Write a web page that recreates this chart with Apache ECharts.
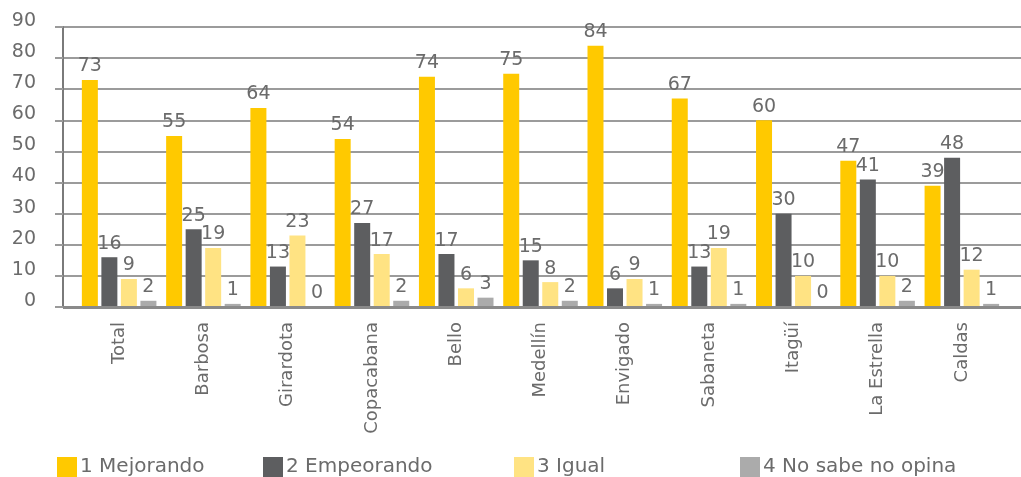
<!DOCTYPE html>
<html>
<head>
<meta charset="utf-8">
<script src="https://cdn.jsdelivr.net/npm/echarts@6/dist/echarts.min.js"></script>
<style>
  html, body { margin: 0; padding: 0; background: #fff; }
  #chart { width: 1021px; height: 477px; }
</style>
</head>
<body>
<div id="chart"></div>
<script>
// Datos de la gráfica
const categorias = ['Total', 'Barbosa', 'Girardota', 'Copacabana', 'Bello', 'Medellín',
  'Envigado', 'Sabaneta', 'Itagüí', 'La Estrella', 'Caldas'];
const mejorando = [73, 55, 64, 54, 74, 75, 84, 67, 60, 47, 39];
const empeorando = [16, 25, 13, 27, 17, 15, 6, 13, 30, 41, 48];
const igual = [9, 19, 23, 17, 6, 8, 9, 19, 10, 10, 12];
const noSabe = [2, 1, 0, 2, 3, 2, 1, 1, 0, 2, 1];
const nombres = ['1 Mejorando', '2 Empeorando', '3 Igual', '4 No sabe no opina'];
const colores = ['#FFC900', '#5D5E60', '#FFE383', '#ABABAB'];

const fuente = '"DejaVu Sans", sans-serif';
const gris = '#6B6B6B';

const chart = echarts.init(document.getElementById('chart'));

const series = [mejorando, empeorando, igual, noSabe].map((vals, i) => ({
  name: nombres[i],
  type: 'bar',
  xAxisIndex: 1,
  yAxisIndex: 1,
  data: vals,
  barWidth: 16,
  barGap: '22%',
  itemStyle: { color: colores[i] },
  label: {
    show: true,
    position: 'top',
    distance: 4,
    color: gris,
    fontSize: 19,
    fontFamily: fuente
  }
}));

// Leyendas separadas para respetar la posición de cada elemento
const legendLeft = [52, 258, 509, 735];
const legends = nombres.map((n, i) => ({
  data: [n],
  left: legendLeft[i],
  top: 452,
  itemWidth: 20,
  itemHeight: 20,
  itemGap: 0,
  icon: 'rect',
  textStyle: { color: gris, fontSize: 20, fontFamily: fuente, padding: [0, 0, 0, -2] },
  selectedMode: false
}));

chart.setOption({
  animation: false,
  legend: legends,
  grid: [
    { left: 63, right: 0, top: 27, height: 280 },
    { left: 77, right: 17, top: 27, height: 280 }
  ],
  xAxis: [
    { type: 'category', gridIndex: 0, data: categorias, show: false },
    {
      type: 'category',
      gridIndex: 1,
      data: categorias,
      axisLine: { show: false },
      axisTick: { show: false },
      axisLabel: {
        rotate: 90,
        margin: 15,
        color: gris,
        fontSize: 18,
        fontFamily: fuente
      }
    }
  ],
  yAxis: [
    {
      type: 'value',
      gridIndex: 0,
      min: 0,
      max: 90,
      interval: 10,
      axisLine: { show: true, lineStyle: { color: '#7A7A7A', width: 2 } },
      axisTick: { show: true, length: 8, lineStyle: { color: '#9A9A9A', width: 2 } },
      axisLabel: {
        color: gris,
        fontSize: 19,
        fontFamily: fuente,
        margin: 27,
        verticalAlign: 'bottom',
        lineHeight: 12
      },
      splitLine: { show: true, lineStyle: { color: '#7A7A7A', width: 1.5 } }
    },
    {
      type: 'value',
      gridIndex: 1,
      min: 0,
      max: 90,
      interval: 10,
      show: false,
      splitLine: { show: false }
    }
  ],
  series: series.concat([{
    // Línea base del eje horizontal
    type: 'line',
    xAxisIndex: 0,
    yAxisIndex: 0,
    data: [],
    markLine: {
      silent: true,
      symbol: 'none',
      label: { show: false },
      lineStyle: { color: '#8A8A8A', width: 3, type: 'solid' },
      data: [{ yAxis: 0 }]
    }
  }])
});

window.addEventListener('resize', function () {
  chart.resize();
});
</script>
</body>
</html>
